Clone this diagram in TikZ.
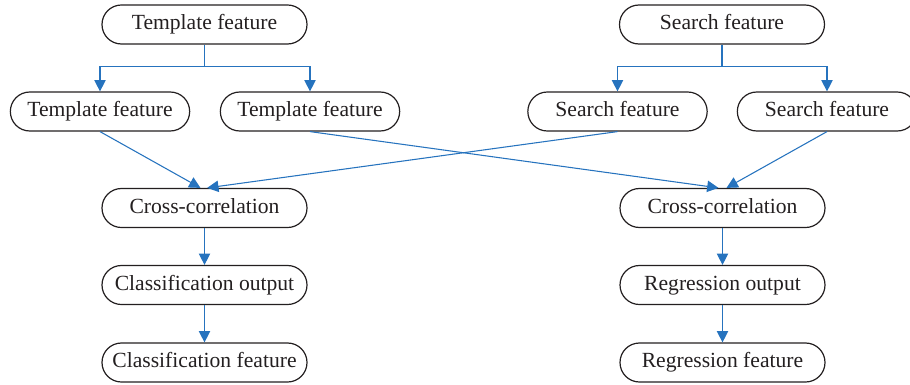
\documentclass[tikz,border=0pt]{standalone}
\usepackage{fontspec}
\setmainfont{Liberation Serif}
\usetikzlibrary{arrows.meta}
\definecolor{flowblue}{RGB}{38,115,190}
\definecolor{ink}{RGB}{35,31,32}
\begin{document}
\begin{tikzpicture}[x=0.75pt,y=-0.75pt,
  box/.style={draw=ink, line width=0.9pt, rounded corners=14.6pt,
    minimum height=29.25pt, inner sep=0pt, text=ink,
    text height=11.2pt, text depth=3.6pt,
    font=\fontsize{16.2}{19}\selectfont},
  wide/.style={box, minimum width=153.75pt},
  narrow/.style={box, minimum width=134.5pt},
  wire/.style={draw=flowblue, line width=0.8pt},
  link/.style={wire, -{Triangle[length=8.5pt,width=8.5pt]}}]
\useasboundingbox (0,0) rectangle (910,385);
\clip (0,0) rectangle (910,385);

% feature sources
\node[wide]   (tf)  at (204.5,24.5)  {Template feature};
\node[narrow] (tf1) at (100,111.5)   {Template feature};
\node[narrow] (tf2) at (310,111.5)   {Template feature};
\node[wide]   (sf)  at (722,24.5)    {Search feature};
\node[narrow] (sf1) at (617.5,111.5) {Search feature};
\node[narrow] (sf2) at (827,111.5)   {Search feature};

% classification branch
\node[wide] (cc1) at (204.5,208)   {Cross-correlation};
\node[wide] (cls) at (204.5,285)   {Classification output};
\node[wide] (clf) at (204.5,362.5) {Classification feature};

% regression branch
\node[wide] (cc2) at (722.5,208)   {Cross-correlation};
\node[wide] (rgo) at (722.5,285)   {Regression output};
\node[wide] (rgf) at (722.5,362.5) {Regression feature};

% splitting each feature in two
\draw[wire] (tf.south) -- ++(0,22) coordinate (tfj);
\draw[link] (tfj) -| (tf1.north);
\draw[link] (tfj) -| (tf2.north);
\draw[wire] (sf.south) -- ++(0,22) coordinate (sfj);
\draw[link] (sfj) -| (sf1.north);
\draw[link] (sfj) -| (sf2.north);

% feeding the correlations
\draw[link] (tf1.south) -- ([xshift=-3pt]cc1.north);
\draw[link] (sf1.south) -- ([xshift=2pt]cc1.north);
\draw[link] (tf2.south) -- ([xshift=-3pt]cc2.north);
\draw[link] (sf2.south) -- ([xshift=3pt]cc2.north);

% heads
\draw[link] (cc1.south) -- (cls.north);
\draw[link] (cls.south) -- (clf.north);
\draw[link] (cc2.south) -- (rgo.north);
\draw[link] (rgo.south) -- (rgf.north);
\end{tikzpicture}
\end{document}
